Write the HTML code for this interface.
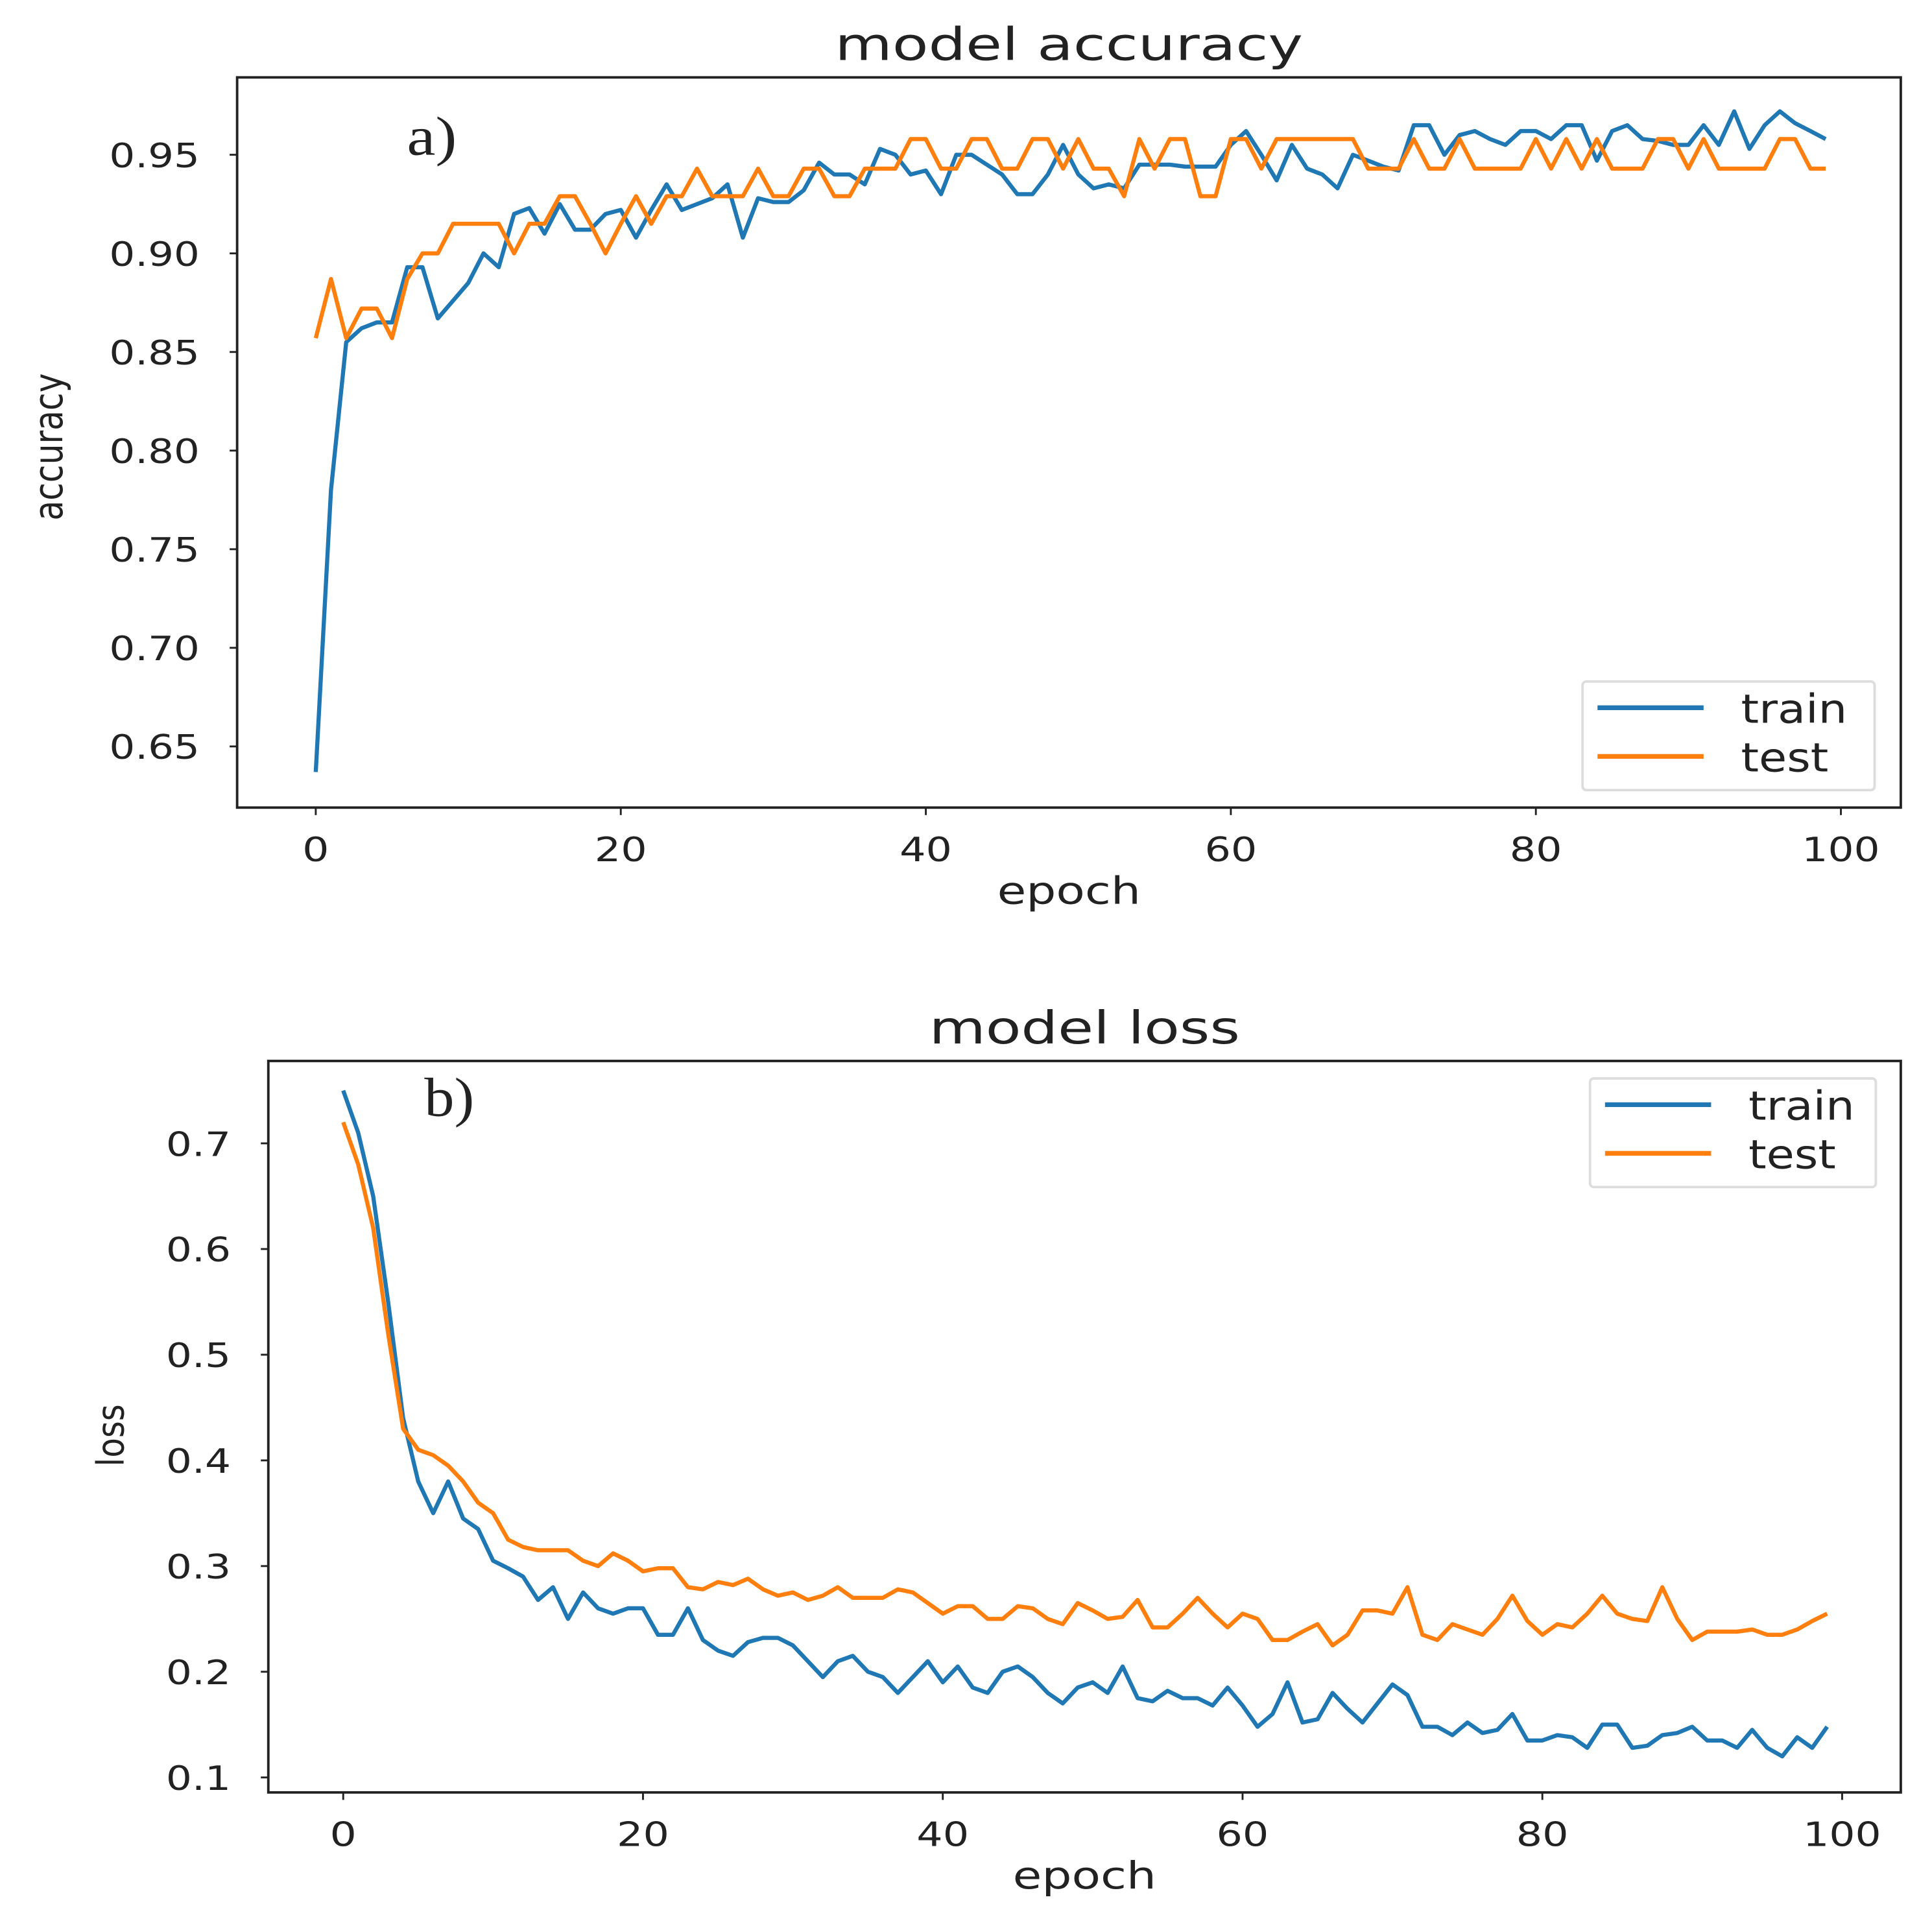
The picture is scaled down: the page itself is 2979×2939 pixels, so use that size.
<!DOCTYPE html>
<html><head><meta charset="utf-8"><style>
html,body{margin:0;padding:0;background:#fff}
svg{display:block}
text{font-family:"DejaVu Sans","Liberation Sans",sans-serif;fill:#222}
</style></head><body>
<svg id="fig" width="2979" height="2939" viewBox="0 0 1548 1527" preserveAspectRatio="none" xmlns="http://www.w3.org/2000/svg"></svg>
<script>
const epochs = Array.from({length:100},(_,i)=>i);
const accTrain=[0.637,0.78,0.855,0.862,0.865,0.865,0.893,0.893,0.867,0.876,0.885,0.9,0.893,0.92,0.923,0.91,0.925,0.912,0.912,0.92,0.922,0.908,0.922,0.935,0.922,0.925,0.928,0.935,0.908,0.928,0.926,0.926,0.932,0.946,0.94,0.94,0.935,0.953,0.95,0.94,0.942,0.93,0.95,0.95,0.945,0.94,0.93,0.93,0.94,0.955,0.94,0.933,0.935,0.933,0.945,0.945,0.945,0.944,0.944,0.944,0.955,0.962,0.95,0.937,0.955,0.943,0.94,0.933,0.95,0.947,0.944,0.942,0.965,0.965,0.95,0.96,0.962,0.958,0.955,0.962,0.962,0.958,0.965,0.965,0.947,0.962,0.965,0.958,0.957,0.955,0.955,0.965,0.955,0.972,0.953,0.965,0.972,0.966,0.962,0.958];
const accTest=[0.857,0.887,0.857,0.872,0.872,0.857,0.887,0.9,0.9,0.915,0.915,0.915,0.915,0.9,0.915,0.915,0.929,0.929,0.915,0.9,0.915,0.929,0.915,0.929,0.929,0.943,0.929,0.929,0.929,0.943,0.929,0.929,0.943,0.943,0.929,0.929,0.943,0.943,0.943,0.958,0.958,0.943,0.943,0.958,0.958,0.943,0.943,0.958,0.958,0.943,0.958,0.943,0.943,0.929,0.958,0.943,0.958,0.958,0.929,0.929,0.958,0.958,0.943,0.958,0.958,0.958,0.958,0.958,0.958,0.943,0.943,0.943,0.958,0.943,0.943,0.958,0.943,0.943,0.943,0.943,0.958,0.943,0.958,0.943,0.958,0.943,0.943,0.943,0.958,0.958,0.943,0.958,0.943,0.943,0.943,0.943,0.958,0.958,0.943,0.943];
const lossTrain=[0.75,0.71,0.65,0.55,0.44,0.38,0.35,0.38,0.345,0.335,0.305,0.298,0.29,0.268,0.28,0.25,0.275,0.26,0.255,0.26,0.26,0.235,0.235,0.26,0.23,0.22,0.215,0.228,0.232,0.232,0.225,0.21,0.195,0.21,0.215,0.2,0.195,0.18,0.195,0.21,0.19,0.205,0.185,0.18,0.2,0.205,0.195,0.18,0.17,0.185,0.19,0.18,0.205,0.175,0.172,0.182,0.175,0.175,0.168,0.185,0.168,0.148,0.16,0.19,0.152,0.155,0.18,0.165,0.152,0.17,0.188,0.178,0.148,0.148,0.14,0.152,0.142,0.145,0.16,0.135,0.135,0.14,0.138,0.128,0.15,0.15,0.128,0.13,0.14,0.142,0.148,0.135,0.135,0.128,0.145,0.128,0.12,0.138,0.128,0.148];
const lossTest=[0.72,0.68,0.62,0.52,0.43,0.41,0.405,0.395,0.38,0.36,0.35,0.325,0.318,0.315,0.315,0.315,0.305,0.3,0.312,0.305,0.295,0.298,0.298,0.28,0.278,0.285,0.282,0.288,0.278,0.272,0.275,0.268,0.272,0.28,0.27,0.27,0.27,0.278,0.275,0.265,0.255,0.262,0.262,0.25,0.25,0.262,0.26,0.25,0.245,0.265,0.258,0.25,0.252,0.268,0.242,0.242,0.255,0.27,0.255,0.242,0.255,0.25,0.23,0.23,0.238,0.245,0.225,0.235,0.258,0.258,0.255,0.28,0.235,0.23,0.245,0.24,0.235,0.25,0.272,0.248,0.235,0.245,0.242,0.255,0.272,0.255,0.25,0.248,0.28,0.25,0.23,0.238,0.238,0.238,0.24,0.235,0.235,0.24,0.248,0.255];
const xTicks=[0,20,40,60,80,100];
const accTicks=[0.65,0.70,0.75,0.80,0.85,0.90,0.95];
const lossTicks=[0.1,0.2,0.3,0.4,0.5,0.6,0.7];

const NS="http://www.w3.org/2000/svg";
const svg=document.getElementById('fig');
function mk(tag,attrs,parent){const e=document.createElementNS(NS,tag);for(const k in attrs)e.setAttribute(k,attrs[k]);(parent||svg).appendChild(e);return e;}
const CW=20.5; // stretched char width for tick digits
function tl(s){let w=0;for(const c of String(s))w+=(c==='.'?11:CW);return w;}

function panel(cfg){
  const g=mk('g',{});
  
  
  const X=v=>cfg.x0+v*(cfg.x100-cfg.x0)/100;
  const Y=v=>cfg.ya+(v-cfg.va)*(cfg.yb-cfg.ya)/(cfg.vb-cfg.va);
  const t=mk('text',{x:(cfg.L+cfg.R)/2,y:cfg.T-14,'text-anchor':'middle','font-size':36,textLength:cfg.titleW,lengthAdjust:'spacingAndGlyphs'},g);t.textContent=cfg.title;
  
  cfg.yt.forEach(v=>{
    mk('line',{x1:cfg.L-6,x2:cfg.L,y1:Y(v),y2:Y(v),stroke:'#222','stroke-width':1.5},g);
    const s=cfg.fmt(v);
    const l=mk('text',{x:cfg.L-30,y:Y(v)+10,'text-anchor':'end','font-size':27,textLength:tl(s),lengthAdjust:'spacingAndGlyphs'},g);l.textContent=s;
    
  });
  xTicks.forEach(v=>{
    mk('line',{x1:X(v),x2:X(v),y1:cfg.B,y2:cfg.B+6,stroke:'#222','stroke-width':1.5},g);
    const l=mk('text',{x:X(v),y:cfg.B+43,'text-anchor':'middle','font-size':27,textLength:tl(v)+1,lengthAdjust:'spacingAndGlyphs'},g);l.textContent=v;
    
  });
  const xl=mk('text',{x:(cfg.L+cfg.R)/2,y:cfg.B+77,'text-anchor':'middle','font-size':30,textLength:115,lengthAdjust:'spacingAndGlyphs'},g);xl.textContent='epoch';
  
  const yl=mk('text',{x:0,y:0,'text-anchor':'middle','font-size':cfg.ylfs,textLength:cfg.ylw,lengthAdjust:'spacingAndGlyphs',transform:`translate(${cfg.ylx},${cfg.yly}) rotate(-90)`},g);yl.textContent=cfg.ylabel;
  
  [[cfg.s1,'#1f77b4','train'],[cfg.s2,'#ff7f0e','test']].forEach(([d,c,n])=>{
    const p=mk('polyline',{points:d.map((v,i)=>X(epochs[i]).toFixed(1)+','+Y(v).toFixed(1)).join(' '),fill:'none',stroke:c,'stroke-width':3.3,'stroke-linejoin':'round'},g);
    
  });
  mk('rect',{x:cfg.L,y:cfg.T,width:cfg.R-cfg.L,height:cfg.B-cfg.T,fill:'none',stroke:'#222','stroke-width':2},g);
  const pl=mk('text',{x:cfg.lx,y:cfg.ly,'font-size':44,style:'font-family:"Liberation Serif",serif',textLength:40,lengthAdjust:'spacingAndGlyphs'},g);pl.textContent=cfg.letter;
  
  const lg=mk('g',{},g);
  
  const b=cfg.leg;
  mk('rect',{x:b[0],y:b[1],width:b[2],height:b[3],fill:'#fff',stroke:'#ddd','stroke-width':2,rx:3},lg);
  [['train','#1f77b4',0,85],['test','#ff7f0e',1,70]].forEach(([n,c,i,w])=>{
    const yy=b[1]+21+i*39;
    mk('line',{x1:b[0]+12,x2:b[0]+97,y1:yy,y2:yy,stroke:c,'stroke-width':3.8},lg);
    const tx=mk('text',{x:b[0]+127,y:yy+12,'font-size':32,textLength:w,lengthAdjust:'spacingAndGlyphs'},lg);tx.textContent=n;
    
  });
}
panel({name:'accuracy-chart',title:'model accuracy',titleW:375,L:190,R:1523,T:62,B:647,x0:253,x100:1475,ya:124,va:0.95,yb:598,vb:0.65,
  yt:accTicks,fmt:v=>v.toFixed(2),ylabel:'accuracy',ylx:50,yly:358,ylfs:32,ylw:118,s1:accTrain,s2:accTest,letter:'a)',lx:326,ly:124,leg:[1268,546,234,87]});
panel({name:'loss-chart',title:'model loss',titleW:249,L:215,R:1523,T:850,B:1436,x0:275,x100:1476,ya:916,va:0.7,yb:1424,vb:0.1,
  yt:lossTicks,fmt:v=>v.toFixed(1),ylabel:'loss',ylx:99,yly:1150,ylfs:30,ylw:50,s1:lossTrain,s2:lossTest,letter:'b)',lx:340,ly:894,leg:[1274,864,229,87]});
</script>
</body></html>
